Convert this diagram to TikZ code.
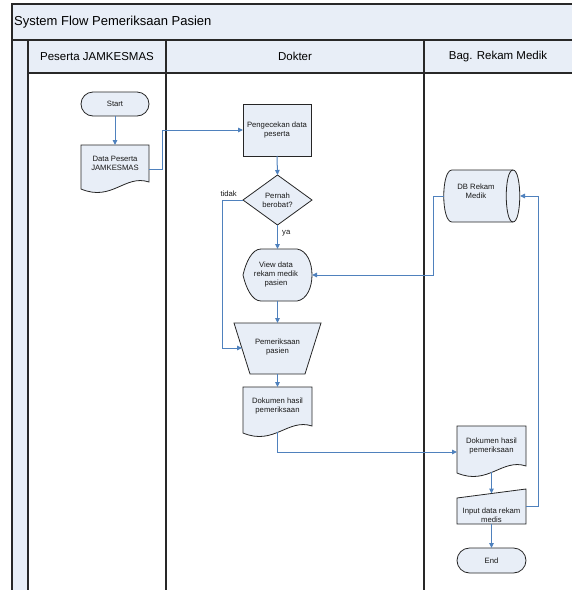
\documentclass[tikz,border=0pt]{standalone}
\usepackage{fontspec}
\setmainfont{Liberation Sans}
\usetikzlibrary{arrows.meta,calc}
\definecolor{paneblue}{RGB}{232,238,247}
\definecolor{flowblue}{RGB}{79,129,189}
\definecolor{frameline}{RGB}{40,40,40}

\begin{document}
\begin{tikzpicture}[x=1pt,y=-1pt,
  lane/.style={draw=frameline,line width=1.3pt},
  box/.style={draw=black!85,line width=0.8pt,fill=paneblue},
  lbl/.style={font=\fontsize{7.7}{9}\selectfont,text=black!90,align=center,inner sep=0pt},
  area/.style 2 args={minimum width=#1,minimum height=#2,inner sep=0pt,outer sep=0pt},
  link/.style={draw=flowblue,line width=1pt},
  flow/.style={link,-{Triangle[length=5pt,width=4.5pt]}},
]
\useasboundingbox (0,0) rectangle (572,590);

% document symbol with a wavy lower edge, drawn around a frame node
\newcommand{\docshape}[1]{%
  \draw[box] (#1.north west) -- (#1.north east) -- ($(#1.south east)+(0,-4)$)
    .. controls ($(#1.south east)+(-24,-12)$) and ($(#1.south west)+(31,16)$)
    .. ($(#1.south west)+(0,3)$) -- cycle;}

% ---- pool and lanes ----
\fill[paneblue] (12,4) rectangle (572,40);
\fill[paneblue] (12,40) rectangle (28,590);
\fill[paneblue] (28,40) rectangle (572,73);
\draw[lane] (572,4) -- (12,4) -- (12,590);
\draw[lane] (12,40) -- (572,40);
\draw[lane] (28,40) -- (28,590);
\draw[lane] (28,73) -- (572,73);
\draw[lane] (166,40) -- (166,590);
\draw[lane] (424,40) -- (424,590);

\node[anchor=west,inner sep=0pt,font=\fontsize{13}{15}\selectfont] (title) at (14,22) {System Flow Pemeriksaan Pasien};
\node[inner sep=0pt,font=\fontsize{11.5}{13}\selectfont] (hpeserta) at (97,56.5) {Peserta JAMKESMAS};
\node[inner sep=0pt,font=\fontsize{11.5}{13}\selectfont] (hdokter) at (295,56.5) {Dokter};
\node[inner sep=0pt,font=\fontsize{11.5}{13}\selectfont] (hrekam) at (498,56.5) {Bag. Rekam Medik};

% ---- Peserta lane ----
\node[box,rounded corners=12pt,area={68}{24},lbl] (start) at (115,104) {Start};

\node[area={68}{41}] (doc1) at (115,165.5) {};
\docshape{doc1}
\node[lbl] (doc1txt) at (115,163) {Data Peserta\\JAMKESMAS};

% ---- Dokter lane ----
\node[box,area={68}{52},lbl] (cek) at (277,130) {Pengecekan data\\peserta};

\node[area={69}{50}] (dia) at (277.5,200) {};
\draw[box] (dia.west) -- (dia.north) -- (dia.east) -- (dia.south) -- cycle;
\node[lbl] (diatxt) at (dia) {Pernah\\berobat?};

\node[area={69}{52}] (view) at (277.5,275) {};
\draw[box] (243,275) .. controls (246,262) and (252,249) .. (261,249) -- (297,249)
  .. controls (317,252) and (317,298) .. (297,301) -- (261,301)
  .. controls (252,301) and (246,288) .. (243,275) -- cycle;
\node[lbl] (viewtxt) at (276,275) {View data\\rekam medik\\pasien};

\node[area={87}{51}] (pem) at (277.5,348.5) {};
\draw[box] (234,323) -- (321,323) -- (305,374) -- (250,374) -- cycle;
\node[lbl] (pemtxt) at (277.5,347.5) {Pemeriksaan\\pasien};
\coordinate (pemleft) at (242,348);

\node[area={69}{43}] (doc2) at (277.5,408.5) {};
\docshape{doc2}
\node[lbl] (doc2txt) at (277.5,406.5) {Dokumen hasil\\pemeriksaan};

% ---- Rekam Medik lane ----
\node[area={76}{52}] (db) at (482,196) {};
\draw[box] (452,170) -- (513,170) .. controls (522,170) and (522,222) .. (513,222)
  -- (452,222) .. controls (441,222) and (441,170) .. (452,170) -- cycle;
\draw[black!85,line width=0.8pt] (513,170) .. controls (504,170) and (504,222) .. (513,222);
\node[lbl] (dbtxt) at (476,191) {DB Rekam\\Medik};

\node[area={69}{44}] (doc3) at (491.5,448) {};
\docshape{doc3}
\node[lbl] (doc3txt) at (491.5,446.5) {Dokumen hasil\\pemeriksaan};

\node[area={69}{35}] (inp) at (491.5,506.5) {};
\draw[box] (457,498) -- (526,489) -- (526,524) -- (457,524) -- cycle;
\node[lbl] (inptxt) at (491.5,515) {Input data rekam\\medis};
\coordinate (inptop) at (491.5,493.5);

\node[box,rounded corners=12.5pt,area={69}{25},lbl] (stop) at (491.5,560.5) {End};

% ---- connectors ----
\draw[flow] (start.south) -- (doc1.north);
\draw[flow] ($(doc1.east)+(0,4)$) -- ++(13,0) |- (cek.west);
\draw[flow] (cek.south) -- (dia.north);
\draw[flow] (dia.west) -- ++(-21,0) |- (pemleft);
\node[lbl,anchor=south east] (tidak) at (237,197) {tidak};
\draw[flow] (dia.south) -- (view.north);
\node[lbl,anchor=west] (ya) at (282,233) {ya};
\draw[flow] (db.west) -- ++(-11,0) |- (view.east);
\draw[flow] (view.south) -- (pem.north);
\draw[flow] (pem.south) -- (doc2.north);
\draw[flow] ($(doc2.south)+(0,1.5)$) |- ($(doc3.west)+(0,4)$);
\draw[flow] ($(doc3.south)+(0,1.5)$) -- (inptop);
\draw[flow] (inp.east) -- ++(12,0) |- (db.east);
\draw[flow] (inp.south) -- (stop.north);
\end{tikzpicture}
\end{document}
